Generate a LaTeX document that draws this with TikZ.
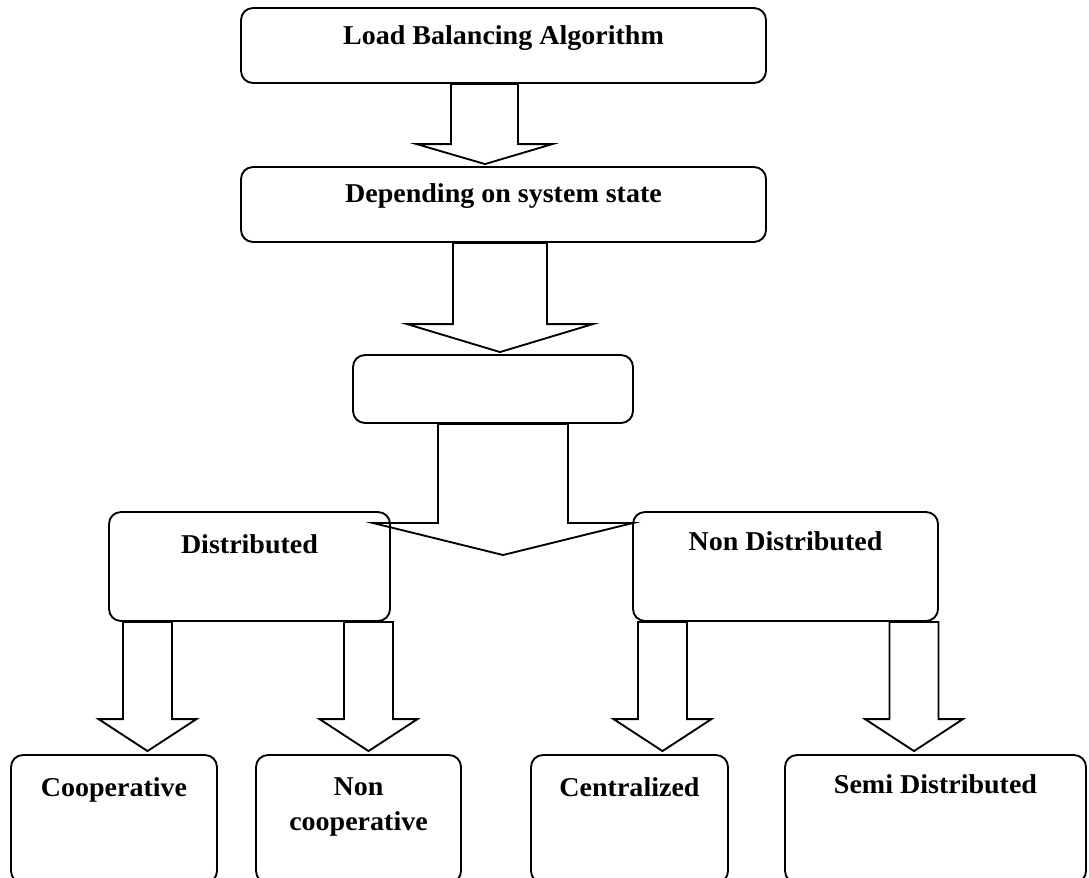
\documentclass[tikz,border=0pt]{standalone}
\usepackage{fontspec}
\setmainfont{Liberation Serif}[FakeStretch=1.03]
\usetikzlibrary{positioning,calc}

\tikzset{
	rbox/.style 2 args={draw, line width=1.4pt, rounded corners=9pt, fill=white,
		minimum width=#1*0.75pt, minimum height=#2*0.75pt, inner sep=0pt},
	lbl/.style={font=\bfseries\fontsize{20.4pt}{26.25pt}\selectfont, inner sep=0pt, align=center},
	bigarrow/.style={draw, line width=1.4pt, line join=miter}
}
% #1 start on box bottom, #2 tip, #3 half shaft, #4 half head, #5 head length
\newcommand{\blockarrow}[5]{%
	\draw[bigarrow] let \p1=#1, \p2=#2 in
		(\x1-#3,\y1) -- (\x1-#3,\y2+#5) -- (\x1-#4,\y2+#5) -- (\p2)
		-- (\x1+#4,\y2+#5) -- (\x1+#3,\y2+#5) -- (\x1+#3,\y1) -- cycle;}

\begin{document}
\begin{tikzpicture}[x=0.75pt,y=-0.75pt]
			\useasboundingbox (0,0) rectangle (1089,878);
			%% boxes
			\node[rbox={525}{75}] (load) at (503.5,45.5) {};
			\node[rbox={525}{75}] (dep) at (503.5,204.5) {};
			\node[rbox={280}{68}] (blank) at (493,389) {};
			\node[rbox={281}{109}] (dist) at (249.5,566.5) {};
			\node[rbox={305}{109}] (nondist) at (785.5,566.5) {};
			\node[rbox={206}{128}] (coop) at (114,819) {};
			\node[rbox={205}{128}] (noncoop) at (358.5,819) {};
			\node[rbox={197}{128}] (central) at (629.5,819) {};
			\node[rbox={301}{128}] (semi) at (935.5,819) {};
			%% texts
			\node[lbl, below=27.75pt of load.north, anchor=base] (loadT) {Load Balancing Algorithm};
			\node[lbl, below=27pt of dep.north, anchor=base] (depT) {Depending on system state};
			\node[lbl, below=31.5pt of dist.north, anchor=base] (distT) {Distributed};
			\node[lbl, below=29.25pt of nondist.north, anchor=base] (nondistT) {Non Distributed};
			\node[lbl, below=31.5pt of coop.north, anchor=base] (coopT) {Cooperative};
			\node[lbl, below=57pt of noncoop.north, anchor=base] (noncoopT) {Non\\cooperative};
			\node[lbl, below=31.5pt of central.north, anchor=base] (centralT) {Centralized};
			\node[lbl, below=29.25pt of semi.north, anchor=base] (semiT) {Semi Distributed};
			%% arrows
			\coordinate (split) at (503,555);
			\blockarrow{($(load.south)+(-19,0)$)}{($(dep.north)+(-18.5,-2)$)}{25.1pt}{51pt}{15pt}
			\blockarrow{($(dep.south)+(-3.5,0)$)}{($(blank.north)+(7,-2)$)}{35.25pt}{69.75pt}{21pt}
			\blockarrow{($(blank.south)+(10,0)$)}{(split)}{48.75pt}{97.5pt}{24pt}
			\blockarrow{($(dist.south)+(-102,0)$)}{($(coop.north)+(33.5,-3)$)}{18.4pt}{36.75pt}{24pt}
			\blockarrow{($(dist.south)+(119,0)$)}{($(noncoop.north)+(10,-3)$)}{18.4pt}{36.75pt}{24pt}
			\blockarrow{($(nondist.south)+(-123,0)$)}{($(central.north)+(33,-3)$)}{18.4pt}{36.75pt}{24pt}
			\blockarrow{($(nondist.south)+(128.5,0)$)}{($(semi.north)+(-21.5,-3)$)}{18.4pt}{36.75pt}{24pt}
		\end{tikzpicture}
\end{document}
